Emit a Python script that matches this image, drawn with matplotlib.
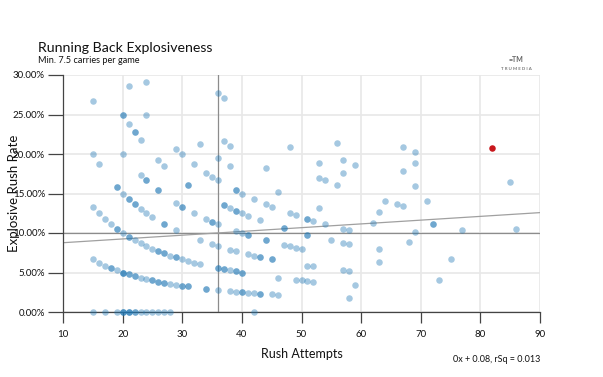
import matplotlib
matplotlib.use("Agg")
import matplotlib.pyplot as plt
from matplotlib.ticker import PercentFormatter

plt.rcParams['font.family'] = ['Lato', 'DejaVu Sans']

# ---- data (rush attempts, explosive rush rate in %) ----
# repeated entries are players sharing the same point (drawn darker)
attempts = [
    # 0 %
    15, 17, 19, 20, 20, 20, 21, 21, 21, 22, 22, 23, 24, 25, 26, 27, 28, 42,
    # lowest curve
    15, 16, 17, 18, 18, 19, 20, 20, 20, 21, 21, 22, 22, 23, 24, 25, 25, 26, 26,
    27, 27, 28, 29, 30, 30, 31, 31, 34, 34, 36, 38, 39, 40, 40, 41, 42, 43, 43,
    45, 46, 58,
    # second curve
    15, 16, 17, 18, 19, 19, 20, 21, 21, 22, 23, 24, 25, 26, 26, 27, 27, 28, 29,
    29, 30, 31, 32, 33, 36, 36, 37, 37, 38, 39, 39, 40, 40, 46, 49, 50, 51, 52, 59,
    # third curve
    15, 16, 19, 19, 20, 21, 21, 22, 22, 23, 24, 25, 27, 27, 29, 33, 35, 36, 38,
    39, 41, 42, 43, 43, 45, 45, 51, 52, 57, 58, 73,
    # fourth curve
    15, 20, 23, 24, 24, 26, 26, 29, 30, 30, 32, 34, 35, 35, 36, 39, 40, 41, 41,
    44, 44, 47, 48, 49, 50, 63,
    # fifth curve
    20, 20, 21, 22, 22, 23, 26, 27, 31, 31, 37, 37, 38, 39, 39, 40, 41, 43, 47,
    47, 51, 51, 55, 57, 58, 63, 75,
    # sixth curve
    21, 24, 29, 30, 32, 34, 35, 36, 39, 39, 40, 42, 44, 45, 48, 49, 51, 51, 52,
    54, 57, 58, 68,
    # upper scatter
    24, 33, 36, 38, 46, 53, 62, 69, 77,
    37, 38, 44, 63, 72, 72,
    53, 54, 56, 64, 66, 67, 86,
    36, 37, 48, 53, 57, 71,
    57, 59, 69,
    56, 67,
    69,
    67, 69, 85,
]
rates = [
    0, 0, 0, 0, 0, 0, 0, 0, 0, 0, 0, 0, 0, 0, 0, 0, 0, 0,
    6.67, 6.25, 5.88, 5.56, 5.56, 5.26, 5.00, 5.00, 5.00, 4.76, 4.76, 4.55, 4.55,
    4.35, 4.17, 4.00, 4.00, 3.85, 3.85, 3.70, 3.70, 3.57, 3.45, 3.33, 3.33, 3.23,
    3.23, 2.94, 2.94, 2.78, 2.63, 2.56, 2.50, 2.50, 2.44, 2.38, 2.33, 2.33,
    2.22, 2.17, 1.72,
    13.33, 12.50, 11.76, 11.11, 10.53, 10.53, 10.00, 9.52, 9.52, 9.09, 8.70, 8.33,
    8.00, 7.69, 7.69, 7.41, 7.41, 7.14, 6.90, 6.90, 6.67, 6.45, 6.25, 6.06, 5.56,
    5.56, 5.41, 5.41, 5.26, 5.13, 5.13, 5.00, 5.00, 4.35, 4.08, 4.00, 3.92, 3.85, 3.39,
    20.00, 18.75, 15.79, 15.79, 15.00, 14.29, 14.29, 13.64, 13.64, 13.04, 12.50,
    12.00, 11.11, 11.11, 10.34, 9.09, 8.57, 8.33, 7.89, 7.69, 7.32, 7.14, 6.98,
    6.98, 6.67, 6.67, 5.88, 5.77, 5.26, 5.17, 4.11,
    26.67, 20.00, 17.39, 16.67, 16.67, 15.38, 15.38, 13.79, 13.33, 13.33, 12.50,
    11.76, 11.43, 11.43, 11.11, 10.26, 10.00, 9.76, 9.76, 9.09, 9.09, 8.51, 8.33,
    8.16, 8.00, 6.35,
    25.00, 25.00, 23.81, 22.73, 22.73, 21.74, 19.23, 18.52, 16.13, 16.13, 13.51,
    13.51, 13.16, 12.82, 12.82, 12.50, 12.20, 11.63, 10.64, 10.64, 9.80, 9.80,
    9.09, 8.77, 8.62, 7.94, 6.67,
    28.57, 25.00, 20.69, 20.00, 18.75, 17.65, 17.14, 16.67, 15.38, 15.38, 15.00,
    14.29, 13.64, 13.33, 12.50, 12.24, 11.76, 11.76, 11.54, 11.11, 10.53, 10.34, 8.82,
    29.17, 21.21, 19.44, 18.42, 15.22, 13.21, 11.29, 10.14, 10.39,
    21.62, 21.05, 18.18, 12.70, 11.11, 11.11,
    16.98, 16.67, 16.07, 14.06, 13.64, 13.43, 10.47,
    27.78, 27.03, 20.83, 18.87, 17.54, 14.08,
    19.30, 18.64, 15.94,
    21.43, 17.91,
    18.84,
    20.90, 20.29, 16.47,
]
highlight_attempts = [82]
highlight_rates = [20.73]

avg_attempts = 36
avg_rate = 10.0
reg_x = [10, 90]
reg_y = [8.77, 12.58]

x_ticks = [10, 20, 30, 40, 50, 60, 70, 80, 90]
y_ticks = [0, 5, 10, 15, 20, 25, 30]

title = "Running Back Explosiveness"
subtitle = "Min. 7.5 carries per game"
x_label = "Rush Attempts"
y_label = "Explosive Rush Rate"
fit_label = "0x + 0.08, rSq = 0.013"

# ---- figure ----
W, H = 603, 377
fig = plt.figure(figsize=(W / 100, H / 100), dpi=100)
ax = fig.add_axes([63 / W, 1 - 312 / H, (540 - 63) / W, (312 - 75) / H])

ax.set_xlim(10, 90)
ax.set_ylim(0, 30)
ax.set_xticks(x_ticks)
ax.set_yticks(y_ticks)
ax.yaxis.set_major_formatter(PercentFormatter(xmax=100, decimals=2))

ax.grid(True, color='#e8e8e8', linewidth=1.2, zorder=0)
ax.set_axisbelow(True)
for s in ['top', 'right']:
    ax.spines[s].set_visible(False)
for s in ['left', 'bottom']:
    ax.spines[s].set_color('#444444')
    ax.spines[s].set_linewidth(0.9)
ax.tick_params(axis='y', length=11, width=0.9, color='#444444', pad=2,
               labelsize=7, labelcolor='#111111')
ax.tick_params(axis='x', length=8, width=0.9, color='#444444', pad=5,
               labelsize=7, labelcolor='#111111')

ax.axvline(avg_attempts, color='#8c8c8c', linewidth=0.9, zorder=1)
ax.axhline(avg_rate, color='#8c8c8c', linewidth=0.9, zorder=1)
ax.plot(reg_x, reg_y, color='#a0a0a0', linewidth=0.9, zorder=1)

ax.scatter(attempts, rates, s=22, color='#1f77b4', alpha=0.4,
           linewidths=0, zorder=3, clip_on=False)
ax.scatter(highlight_attempts, highlight_rates, s=22, color='#c8171c',
           linewidths=0, zorder=4, clip_on=False)

ax.set_xlabel(x_label, fontsize=9, color='#111111')
ax.xaxis.set_label_coords(0.5, -0.153)
ax.set_ylabel(y_label, fontsize=9.5, color='#111111')
ax.yaxis.set_label_coords(-0.09, 0.5)

fig.text(38 / W, 1 - 52 / H, title, fontsize=10.2, color='#111111',
         ha='left', va='baseline')
fig.text(38 / W, 1 - 63 / H, subtitle, fontsize=6.6, color='#111111',
         ha='left', va='baseline')
fig.text(540 / W, 1 - 359 / H, fit_label, fontsize=6.5, color='#111111',
         ha='right', va='center')

# logo
fig.text(516 / W, 1 - 69 / H, "T R U M E D I A", fontsize=3.2, color='#777777',
         ha='center', va='center', fontweight='bold')
fig.text(516 / W, 1 - 60 / H, "=TM", fontsize=5, color='#666666',
         ha='center', va='center', fontweight='bold')

fig.savefig("out.png", dpi=100)
